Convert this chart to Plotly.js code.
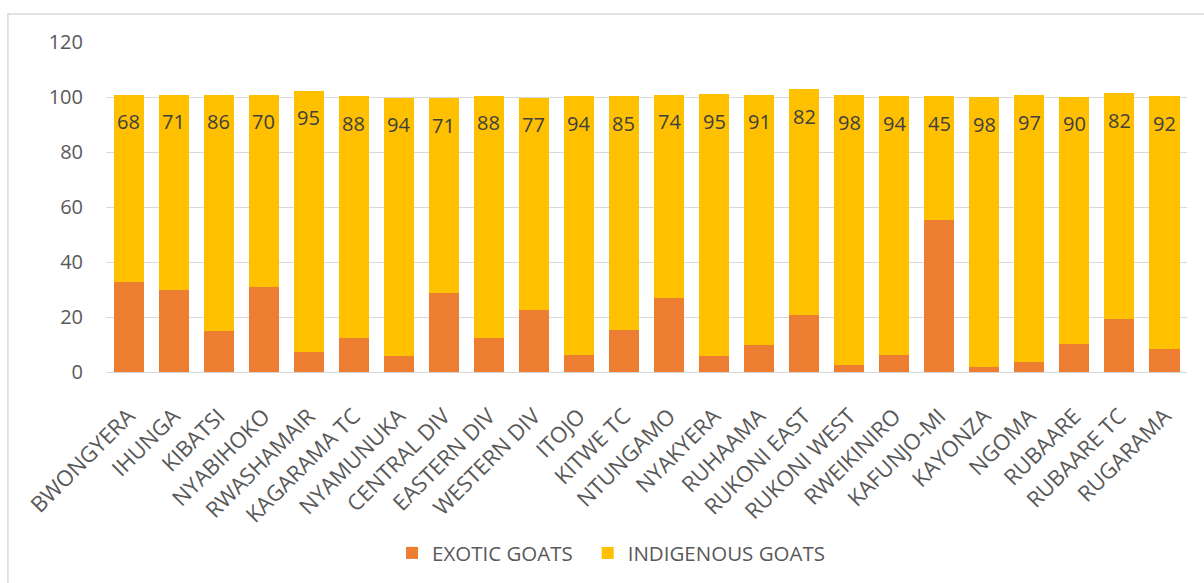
<!DOCTYPE html>
<html>
<head>
<meta charset="utf-8">
<script src="https://cdn.plot.ly/plotly-3.0.1.min.js"></script>
<style>
  html, body { margin: 0; padding: 0; background: #ffffff; }
  #chart { width: 1204px; height: 583px; }
</style>
</head>
<body>
<div id="chart"></div>
<script>
// Goat breed shares by sub-county (percent)
const subCounties = [
  "BWONGYERA", "IHUNGA", "KIBATSI", "NYABIHOKO", "RWASHAMAIR", "KAGARAMA TC",
  "NYAMUNUKA", "CENTRAL DIV", "EASTERN DIV", "WESTERN DIV", "ITOJO", "KITWE TC",
  "NTUNGAMO", "NYAKYERA", "RUHAAMA", "RUKONI EAST", "RUKONI WEST", "RWEIKINIRO",
  "KAFUNJO-MI", "KAYONZA", "NGOMA", "RUBAARE", "RUBAARE TC", "RUGARAMA"
];
const exoticGoats = [
  32.8, 29.8, 14.9, 30.9, 7.3, 12.3,
  5.7, 28.6, 12.5, 22.7, 6.3, 15.3,
  26.8, 6.0, 9.9, 20.8, 2.6, 6.3,
  55.3, 2.0, 3.7, 10.1, 19.3, 8.2
];
const indigenousGoats = [
  68, 71, 86, 70, 95, 88,
  94, 71, 88, 77, 94, 85,
  74, 95, 91, 82, 98, 94,
  45, 98, 97, 90, 82, 92
];
const yTicks = [0, 20, 40, 60, 80, 100, 120];

const FONT = "Open Sans, Noto Sans, sans-serif";

const traces = [
  {
    type: "bar",
    name: "EXOTIC GOATS",
    x: subCounties,
    y: exoticGoats,
    marker: { color: "#ED7D31" },
    legend: "legend",
    hoverinfo: "x+y+name"
  },
  {
    type: "bar",
    name: "INDIGENOUS GOATS",
    x: subCounties,
    y: indigenousGoats,
    marker: { color: "#FFC000" },
    legend: "legend2",
    hoverinfo: "x+y+name"
  }
];

// value labels near the top of each indigenous segment
const labels = subCounties.map((c, i) => ({
  x: c,
  y: exoticGoats[i] + indigenousGoats[i],
  xref: "x",
  yref: "y",
  text: String(indigenousGoats[i]),
  showarrow: false,
  yanchor: "middle",
  yshift: -27,
  font: { family: FONT, size: 20, color: "#404040" }
}));

const legendBase = {
  orientation: "h",
  xanchor: "left",
  y: -0.544,
  yanchor: "middle",
  itemwidth: 30,
  bgcolor: "rgba(0,0,0,0)",
  font: { family: FONT, size: 20.5, color: "#595959" }
};

const layout = {
  width: 1204,
  height: 583,
  margin: { l: 106, r: 17, t: 42, b: 210 },
  paper_bgcolor: "#ffffff",
  plot_bgcolor: "#ffffff",
  barmode: "stack",
  bargap: 0.333,
  showlegend: true,
  legend: Object.assign({}, legendBase, { x: 0.2646 }),
  legend2: Object.assign({}, legendBase, { x: 0.4456 }),
  xaxis: {
    type: "category",
    tickangle: -45,
    ticks: "",
    showgrid: false,
    showline: false,
    zeroline: false,
    ticklabelstandoff: 26,
    tickfont: { family: FONT, size: 22, color: "#595959" }
  },
  yaxis: {
    range: [0, 120],
    tickvals: yTicks,
    ticktext: yTicks.map(String),
    ticks: "",
    showgrid: true,
    gridcolor: "#d9d9d9",
    gridwidth: 1,
    zeroline: true,
    zerolinecolor: "#d9d9d9",
    zerolinewidth: 1,
    showline: false,
    ticklabelstandoff: 22,
    tickfont: { family: FONT, size: 20, color: "#595959" }
  },
  annotations: labels,
  shapes: [
    {
      type: "rect",
      xref: "paper",
      yref: "paper",
      x0: -0.0907,
      x1: 1.2,
      y0: -1.0,
      y1: 1.0846,
      line: { color: "#d9d9d9", width: 1.5 },
      fillcolor: "rgba(0,0,0,0)",
      layer: "below"
    }
  ]
};

Plotly.newPlot("chart", traces, layout, { displayModeBar: false, staticPlot: true });
</script>
</body>
</html>
